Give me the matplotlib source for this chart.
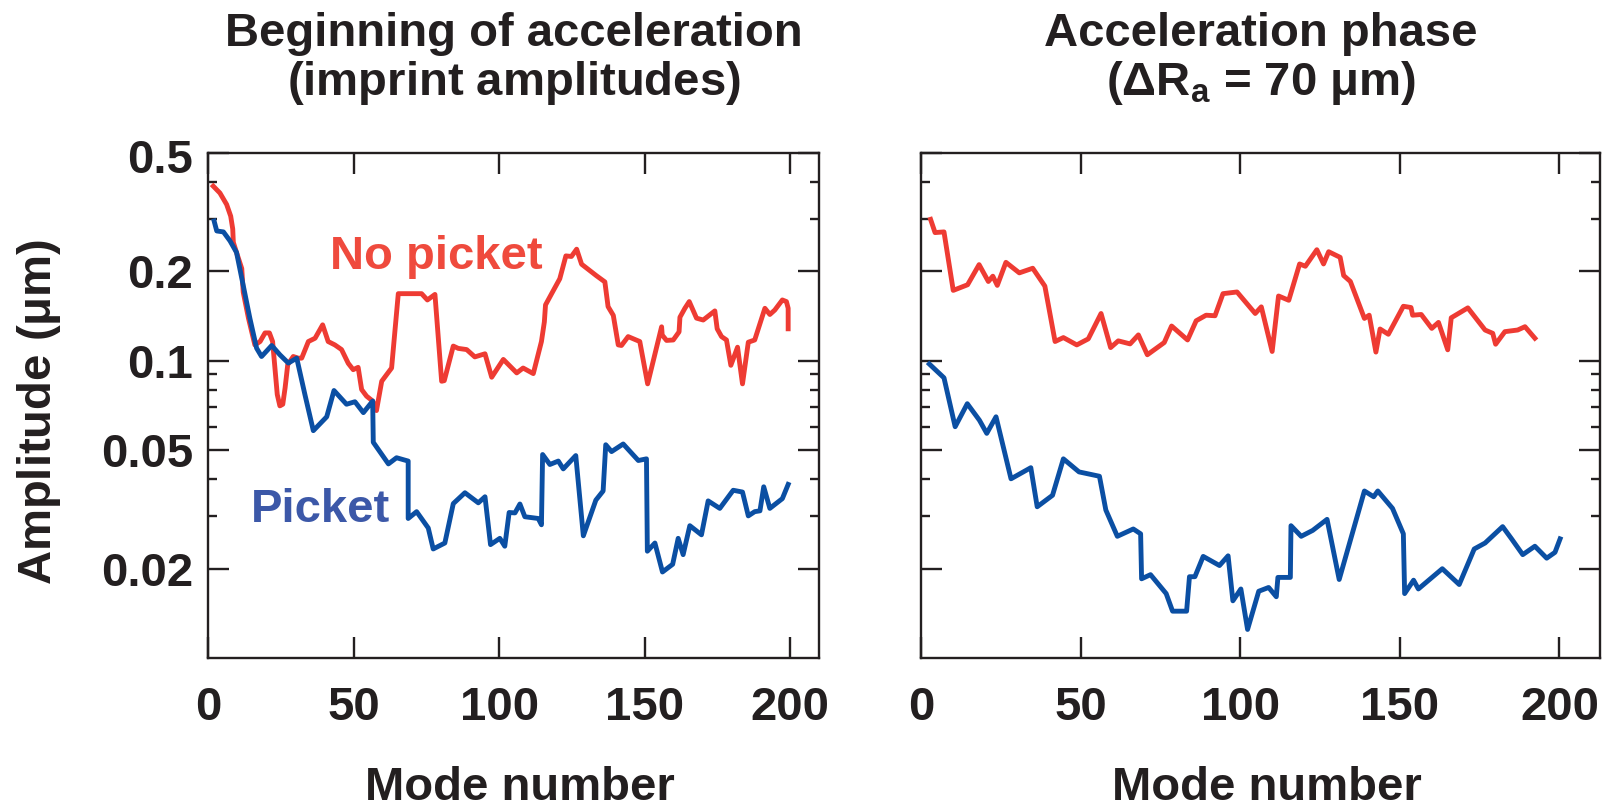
import matplotlib
matplotlib.use("Agg")
import matplotlib.pyplot as plt
from matplotlib.ticker import FixedLocator, FixedFormatter, NullFormatter

plt.rcParams['font.family'] = ['Liberation Sans', 'DejaVu Sans']
plt.rcParams['font.weight'] = 'bold'
plt.rcParams['mathtext.fontset'] = 'custom'
plt.rcParams['mathtext.rm'] = 'Liberation Sans'
plt.rcParams['mathtext.bf'] = 'Liberation Sans:bold'
plt.rcParams['mathtext.it'] = 'Liberation Sans:italic'

# ---------------- data ----------------
left_nopicket_mode = [1.7, 4.0, 6.3, 7.7, 8.4, 8.6, 9.7, 11.5, 12.0, 13.8,
                      16.0, 17.8, 19.5, 21.0, 22.1, 22.9, 23.7, 24.6, 25.6, 26.4,
                      27.3, 29.2, 30.9, 32.1, 34.4, 36.7, 39.3, 41.2, 43.5, 45.8,
                      48.1, 49.8, 51.5, 52.7, 54.4, 56.5, 57.8, 59.6, 61.3, 63.0,
                      65.3, 73.3, 75.3, 77.9, 80.2, 81.1, 84.2, 85.9, 88.8, 91.6,
                      95.1, 97.4, 101.4, 106.0, 108.2, 111.7, 114.5, 115.5, 115.9, 118.0,
                      120.8, 122.9, 124.8, 126.6, 128.3, 133.4, 136.3, 137.4, 139.2, 140.9,
                      142.0, 144.3, 148.3, 151.0, 155.8, 156.0, 157.5, 159.8, 161.8, 162.1,
                      163.8, 165.3, 167.8, 170.1, 174.1, 174.9, 176.4, 178.1, 179.6, 181.9,
                      183.6, 185.6, 187.8, 191.3, 193.0, 194.7, 197.3, 198.7, 199.3, 199.3]
left_nopicket_amp = [0.386, 0.366, 0.335, 0.306, 0.277, 0.250, 0.231, 0.204, 0.170, 0.139,
                     0.113, 0.116, 0.124, 0.124, 0.116, 0.0945, 0.077, 0.0705, 0.0714, 0.0811,
                     0.097, 0.1033, 0.102, 0.102, 0.116, 0.119, 0.132, 0.116, 0.113, 0.109,
                     0.098, 0.0933, 0.095, 0.080, 0.076, 0.0732, 0.068, 0.0853, 0.0898, 0.0945,
                     0.168, 0.168, 0.160, 0.167, 0.0853, 0.0857, 0.112, 0.110, 0.109, 0.103,
                     0.1055, 0.088, 0.101, 0.091, 0.0945, 0.0905, 0.116, 0.135, 0.154, 0.168,
                     0.1885, 0.225, 0.224, 0.237, 0.211, 0.193, 0.184, 0.152, 0.142, 0.113,
                     0.1125, 0.1205, 0.116, 0.0836, 0.130, 0.122, 0.117, 0.1174, 0.125, 0.140,
                     0.150, 0.158, 0.139, 0.137, 0.147, 0.128, 0.1205, 0.1174, 0.0965, 0.111,
                     0.0836, 0.1154, 0.1174, 0.150, 0.143, 0.148, 0.160, 0.158, 0.150, 0.128]

left_picket_mode = [2.0, 2.9, 5.2, 7.45, 9.7, 12.0, 14.3, 16.6, 18.3, 21.8,
                    24.6, 27.5, 30.4, 33.2, 36.1, 40.7, 43.2, 47.5, 50.4, 53.3,
                    56.5, 56.7, 61.9, 64.7, 68.7, 68.7, 71.6, 75.6, 77.3, 81.3,
                    84.2, 88.2, 92.8, 95.1, 97.0, 100.2, 101.9, 103.4, 105.4, 107.1,
                    108.8, 113.4, 114.5, 114.9, 117.4, 120.3, 122.0, 126.3, 128.9, 133.2,
                    135.7, 136.6, 138.6, 142.6, 147.8, 150.6, 150.9, 153.5, 156.1, 159.6,
                    161.5, 163.2, 165.5, 169.5, 171.8, 175.8, 180.4, 183.6, 185.6, 187.8,
                    189.6, 190.9, 193.0, 197.3, 199.3]
left_picket_amp = [0.2947, 0.2729, 0.2709, 0.2528, 0.2312, 0.1791, 0.1387, 0.1102, 0.1033, 0.1125,
                   0.1047, 0.0982, 0.1020, 0.0770, 0.0582, 0.0648, 0.0794, 0.0714, 0.0728, 0.0669,
                   0.0732, 0.0532, 0.0450, 0.0472, 0.0460, 0.0295, 0.0311, 0.0274, 0.0233, 0.0244,
                   0.0331, 0.0360, 0.0333, 0.0349, 0.0241, 0.0253, 0.0238, 0.0309, 0.0308, 0.0330,
                   0.0299, 0.0295, 0.0281, 0.0484, 0.0448, 0.0460, 0.0433, 0.0480, 0.0258, 0.0340,
                   0.0365, 0.0522, 0.0495, 0.0525, 0.0462, 0.0468, 0.0229, 0.0244, 0.0195, 0.0207,
                   0.0253, 0.0223, 0.0279, 0.0260, 0.0338, 0.0319, 0.0367, 0.0362, 0.0301, 0.0311,
                   0.0313, 0.0377, 0.0319, 0.0344, 0.0384]

right_nopicket_mode = [3.0, 4.4, 7.2, 10.1, 14.6, 18.2, 21.1, 22.5, 23.9, 26.6,
                       30.8, 35.0, 38.8, 42.0, 44.6, 48.8, 52.4, 56.4, 59.4, 61.8,
                       65.5, 68.1, 70.9, 76.2, 78.5, 83.5, 86.2, 89.3, 92.1, 94.6,
                       99.0, 104.7, 106.6, 110.0, 112.0, 115.2, 118.6, 120.4, 124.0, 126.1,
                       127.7, 131.3, 132.4, 134.5, 138.9, 140.4, 142.5, 143.8, 146.4, 151.1,
                       153.5, 154.0, 156.7, 160.0, 162.1, 165.0, 166.1, 171.3, 176.7, 179.1,
                       180.0, 182.9, 186.9, 189.2, 192.3]
right_nopicket_amp = [0.2985, 0.2695, 0.2709, 0.1723, 0.1800, 0.2103, 0.1846, 0.1923, 0.1791, 0.2141,
                      0.1973, 0.2045, 0.1781, 0.1160, 0.1196, 0.1130, 0.1184, 0.1441, 0.1107, 0.1166,
                      0.1139, 0.1221, 0.1047, 0.1151, 0.1308, 0.1174, 0.1362, 0.1422, 0.1416, 0.1680,
                      0.1702, 0.1441, 0.1517, 0.1074, 0.1650, 0.1596, 0.2114, 0.2077, 0.2360, 0.2114,
                      0.2324, 0.2225, 0.1933, 0.1846, 0.1387, 0.1422, 0.1069, 0.1278, 0.1227, 0.1524,
                      0.1509, 0.1422, 0.1430, 0.1284, 0.1345, 0.1088, 0.1394, 0.1505, 0.1268, 0.1236,
                      0.1136, 0.1252, 0.1268, 0.1301, 0.1190]

right_picket_mode = [2.6, 7.2, 10.7, 14.5, 18.3, 20.6, 23.5, 28.2, 34.4, 36.4,
                     41.2, 44.6, 49.5, 55.9, 57.9, 61.5, 66.5, 68.8, 69.1, 71.9,
                     76.8, 78.8, 83.2, 84.1, 85.8, 88.4, 93.5, 96.2, 97.7, 100.2,
                     102.3, 105.8, 108.9, 111.3, 111.8, 115.7, 115.9, 119.1, 122.7, 127.2,
                     131.0, 138.9, 141.8, 143.1, 147.7, 151.1, 151.5, 154.3, 155.8, 163.3,
                     168.6, 173.3, 176.7, 182.2, 185.0, 188.5, 192.3, 196.0, 198.6, 200.2]
right_picket_amp = [0.0975, 0.0876, 0.0600, 0.0717, 0.0631, 0.0570, 0.0648, 0.0401, 0.0437, 0.0323,
                    0.0353, 0.0468, 0.0423, 0.0409, 0.0315, 0.0257, 0.0272, 0.0262, 0.0185, 0.0191,
                    0.0165, 0.0144, 0.0144, 0.0188, 0.0188, 0.0220, 0.0205, 0.0221, 0.0156, 0.0171,
                    0.0125, 0.0168, 0.0173, 0.0161, 0.0187, 0.0187, 0.0279, 0.0257, 0.0269, 0.0293,
                    0.0184, 0.0365, 0.0349, 0.0365, 0.0319, 0.0262, 0.0165, 0.0183, 0.0171, 0.0200,
                    0.0177, 0.0233, 0.0244, 0.0277, 0.0252, 0.0223, 0.0238, 0.0217, 0.0227, 0.0252]

x_ticks = [0, 50, 100, 150, 200]
x_tick_labels = ["0", "50", "100", "150", "200"]
y_major = [0.02, 0.05, 0.1, 0.2, 0.5]
y_major_labels = ["0.02", "0.05", "0.1", "0.2", ""]
y_top_label = "0.5"
y_minor = [0.03, 0.04, 0.06, 0.07, 0.08, 0.09, 0.3, 0.4]

left_title = ["Beginning of acceleration", r"$\mathrm{(}$imprint amplitudes$\mathrm{)}$"]
right_title = ["Acceleration phase", r"$\mathrm{(Δ}\mathbf{R_a}$ = 70 $\mathrm{μ}$m$\mathrm{)}$"]
y_label = r"Amplitude $\mathrm{(μ}$m$\mathrm{)}$"
x_label = "Mode number"

RED = "#EE3B33"
BLUE = "#0B4FA3"
RED_TXT = "#EF4A3D"
BLUE_TXT = "#3C58A8"
INK = "#231F20"
FS = 34

W, H = 1606, 809
fig = plt.figure(figsize=(W / 100, H / 100), dpi=100)


def px_axes(x0, x1, y0, y1):
    return fig.add_axes([x0 / W, 1 - y1 / H, (x1 - x0) / W, (y1 - y0) / H])


axL = px_axes(208.3, 819.3, 152.7, 658.3)
axR = px_axes(921.0, 1600.0, 152.7, 658.3)

for ax, xmax in ((axL, 210), (axR, 212.7)):
    ax.set_yscale('log')
    ax.set_xlim(0, xmax)
    ax.set_ylim(0.01, 0.5)
    ax.xaxis.set_major_locator(FixedLocator(x_ticks))
    ax.xaxis.set_major_formatter(FixedFormatter(x_tick_labels))
    ax.yaxis.set_major_locator(FixedLocator(y_major))
    ax.yaxis.set_minor_locator(FixedLocator(y_minor))
    ax.yaxis.set_minor_formatter(NullFormatter())
    ax.tick_params(which='both', direction='in', top=True, right=True,
                   color=INK, width=1.7, labelcolor=INK, labelsize=FS)
    ax.tick_params(which='major', length=15)
    ax.tick_params(which='minor', length=6.5)
    ax.tick_params(axis='x', pad=20)
    ax.tick_params(axis='y', pad=11)
    for s in ax.spines.values():
        s.set_linewidth(1.7)
        s.set_color(INK)

axL.yaxis.set_major_formatter(FixedFormatter(y_major_labels))
axR.yaxis.set_major_formatter(NullFormatter())
# top tick label sits a little below the top edge, as in the reference
axL.annotate(y_top_label, xy=(0, 0.5), xycoords=('axes fraction', 'data'),
             xytext=(-11, -6), textcoords='offset points', ha='right', va='center',
             fontsize=FS, fontweight='bold', color=INK, annotation_clip=False)

lw = 3.5
axL.plot(left_nopicket_mode, left_nopicket_amp, color=RED, lw=lw)
axL.plot(left_picket_mode, left_picket_amp, color=BLUE, lw=lw)
axR.plot(right_nopicket_mode, right_nopicket_amp, color=RED, lw=lw)
axR.plot(right_picket_mode, right_picket_amp, color=BLUE, lw=lw)

axL.text(78.2, 0.203, "No picket", color=RED_TXT, fontsize=FS, fontweight='bold',
         ha='center', va='baseline')
axL.text(38.4, 0.0288, "Picket", color=BLUE_TXT, fontsize=FS, fontweight='bold',
         ha='center', va='baseline')

# titles
for cx, lines in ((513.8, left_title), (1261.0, right_title)):
    fig.text(cx / W, 1 - 46 / H, lines[0], ha='center', va='baseline',
             fontsize=FS, fontweight='bold', color=INK)
    fig.text(cx / W, 1 - 95 / H, lines[1], ha='center', va='baseline',
             fontsize=FS, fontweight='bold', color=INK)

fig.text(39 / W, 1 - 412 / H, y_label, rotation=90, ha='center', va='center',
         fontsize=FS, fontweight='bold', color=INK)
for cx in (520.0, 1267.0):
    fig.text(cx / W, 1 - 800 / H, x_label, ha='center', va='baseline',
             fontsize=FS, fontweight='bold', color=INK)

fig.savefig("out.png", dpi=100)
